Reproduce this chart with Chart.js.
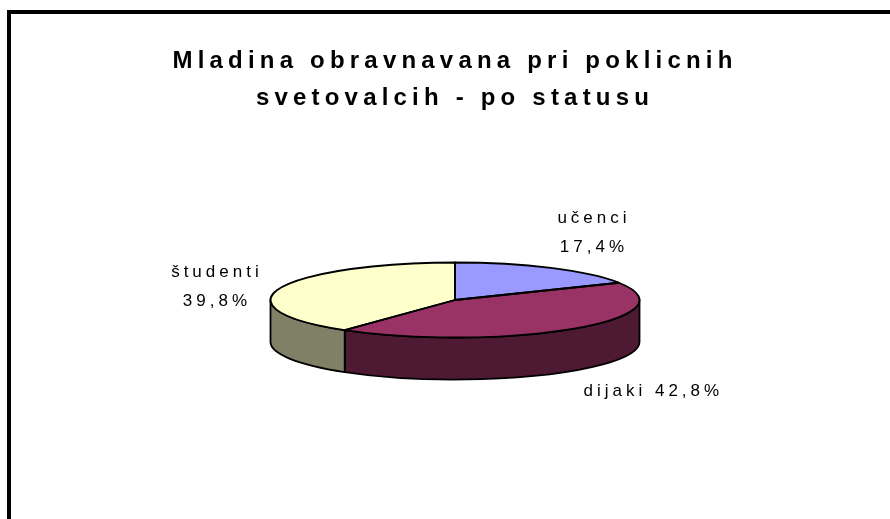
<!DOCTYPE html>
<html>
<head>
<meta charset="utf-8">
<script src="https://cdn.jsdelivr.net/npm/chart.js@4/dist/chart.umd.min.js"></script>
<style>
html, body { margin: 0; padding: 0; background: #fff; }
#wrap { position: relative; width: 890px; height: 519px; overflow: hidden; }
#frame { position: absolute; left: 7px; top: 10px; width: 900px; height: 600px;
         border-top: 4px solid #000; border-left: 4px solid #000; }
canvas { position: absolute; left: 0; top: 0; }
</style>
</head>
<body>
<div id="wrap">
  <div id="frame"></div>
  <canvas id="pieChart" width="890" height="519"></canvas>
</div>
<script>
// data
const categories = ["učenci", "dijaki", "študenti"];
const shares = [17.4, 42.8, 39.8];
const labelBreak = [true, false, true];
const titleLines = ["Mladina obravnavana pri poklicnih", "svetovalcih - po statusu"];

// colours: top face / side wall
const topColors = ["#9999FF", "#993366", "#FFFFCC"];
const sideColors = ["#4D4D80", "#4D1933", "#808066"];

const fontFamily = '"Liberation Sans", Arial, sans-serif';
const tilt = 37.5 / 184.5;   // ellipse height / width
const depth = 42;            // thickness of the pie
const pieY = 300;            // where the top face sits on the page
const TAU = Math.PI * 2;

function norm(a) { return ((a % TAU) + TAU) % TAU; }

function fmt(v) { return v.toFixed(1).replace(".", ",") + "%"; }

const pie3d = {
  id: "pie3d",
  beforeDraw(chart) {
    chart.ctx.letterSpacing = "5.2px";
  },
  beforeDatasetsDraw(chart) {
    const ctx = chart.ctx;
    const arcs = chart.getDatasetMeta(0).data;

    // side walls, only the front half is visible
    ctx.save();
    ctx.lineWidth = 1.8;
    ctx.strokeStyle = "#000";
    ctx.lineJoin = "round";
    arcs.forEach((arc, i) => {
      const p = arc.getProps(["x", "startAngle", "endAngle", "outerRadius"], true);
      const s = norm(p.startAngle);
      const e = s + (p.endAngle - p.startAngle);
      [[0, Math.PI], [TAU, TAU + Math.PI]].forEach(([lo, hi]) => {
        const a1 = Math.max(s, lo), a2 = Math.min(e, hi);
        if (a2 <= a1) return;
        const r = p.outerRadius;
        ctx.beginPath();
        ctx.ellipse(p.x, pieY, r, r * tilt, 0, a1, a2);
        ctx.ellipse(p.x, pieY + depth, r, r * tilt, 0, a2, a1, true);
        ctx.closePath();
        ctx.fillStyle = sideColors[i];
        ctx.fill();
        ctx.stroke();
      });
    });
    ctx.restore();

    // squash the library's circle into the top face
    ctx.save();
    ctx.translate(0, pieY);
    ctx.scale(1, tilt);
    ctx.translate(0, -arcs[0].y);
  },
  afterDatasetsDraw(chart) {
    const ctx = chart.ctx;
    ctx.restore();
    const arcs = chart.getDatasetMeta(0).data;

    ctx.save();
    ctx.lineWidth = 1.8;
    ctx.strokeStyle = "#000";
    ctx.lineJoin = "round";
    arcs.forEach(arc => {
      const p = arc.getProps(["x", "startAngle", "endAngle", "outerRadius"], true);
      const r = p.outerRadius;
      ctx.beginPath();
      ctx.moveTo(p.x, pieY);
      ctx.ellipse(p.x, pieY, r, r * tilt, 0, p.startAngle, p.endAngle);
      ctx.closePath();
      ctx.stroke();
    });

    // data labels outside the slices
    ctx.font = "17px " + fontFamily;
    ctx.letterSpacing = "4px";
    ctx.fillStyle = "#000";
    ctx.textAlign = "center";
    ctx.textBaseline = "middle";
    const lh = 29, fx = 1.1, fy = 1.57;
    arcs.forEach((arc, i) => {
      const p = arc.getProps(["x", "startAngle", "endAngle", "outerRadius"], true);
      const mid = (p.startAngle + p.endAngle) / 2;
      const c = Math.cos(mid), s = Math.sin(mid);
      const lines = labelBreak[i]
        ? [categories[i], fmt(shares[i])]
        : [categories[i] + " " + fmt(shares[i])];
      const w = Math.max(...lines.map(t => ctx.measureText(t).width));
      const h = lines.length * lh;
      const ax = p.x + p.outerRadius * fx * c;
      const ay = pieY + p.outerRadius * tilt * fy * s + depth * (1 + s) / 2;
      const left = ax - w * (1 - Math.tanh(3 * c)) / 2;
      const top = ay - h * (1 - Math.tanh(s)) / 2;
      lines.forEach((t, k) => ctx.fillText(t, left + w / 2, top + lh / 2 + k * lh));
    });
    ctx.restore();
  }
};

new Chart(document.getElementById("pieChart"), {
  type: "pie",
  data: {
    labels: categories,
    datasets: [{
      data: shares,
      backgroundColor: topColors,
      borderWidth: 0,
      hoverOffset: 0,
      offset: 0,
      radius: 184.5,
      clip: false
    }]
  },
  options: {
    responsive: false,
    animation: false,
    events: [],
    layout: { padding: { left: 20, right: 0, top: 0, bottom: 0 } },
    plugins: {
      legend: { display: false },
      tooltip: { enabled: false },
      title: {
        display: true,
        text: titleLines,
        color: "#000",
        font: { family: fontFamily, size: 24, weight: "bold", lineHeight: 37 / 24 },
        padding: { top: 43, bottom: 10 }
      }
    }
  },
  plugins: [pie3d]
});
</script>
</body>
</html>
